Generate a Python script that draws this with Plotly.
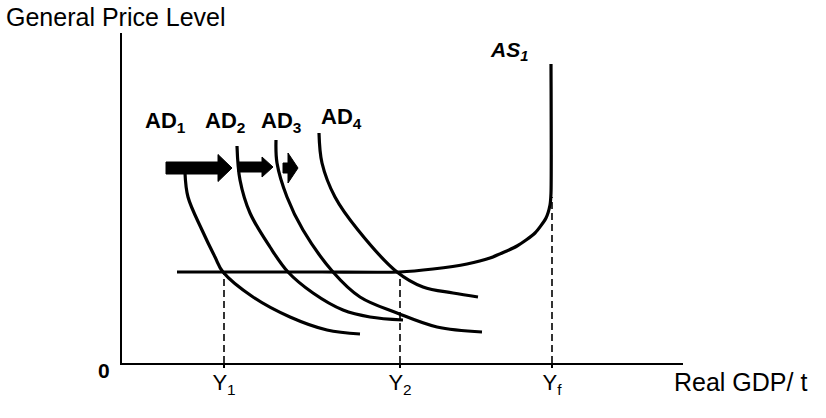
import plotly.graph_objects as go

# ---- data (units: Real GDP along x, price level along y) ----
ad1_x = [63, 66, 80, 93, 101, 131, 168, 205, 238]
ad1_y = [190, 166, 133, 106, 91, 66, 46, 33, 29]
ad2_x = [115, 118, 128, 148, 166, 191, 221, 248, 281]
ad2_y = [217, 183, 150, 116, 91, 70, 53, 46, 43]
ad3_x = [154, 155, 165, 181, 211, 238, 275, 315, 360]
ad3_y = [223, 200, 166, 133, 91, 66, 50, 36, 31]
ad4_x = [197, 200, 213, 236, 275, 301, 331, 356]
ad4_y = [230, 200, 166, 133, 91, 76, 70, 66]
as_x = [55, 200, 278, 311, 345, 368, 395, 413, 424, 428, 429, 429]
as_y = [91, 91, 91, 94, 99, 105, 117, 130, 145, 158, 170, 299]

y_levels = [102, 278, 430]          # Y1, Y2, Yf
y_level_prices = [91, 91, 166]      # where the dashed guides stop
tick_labels = ["Y<sub>1</sub>", "Y<sub>2</sub>", "Y<sub>f</sub>"]
ad_labels = ["AD<sub>1</sub>", "AD<sub>2</sub>", "AD<sub>3</sub>", "AD<sub>4</sub>"]

# shift arrows
arrow_tail = [44, 116, 161]
arrow_tip = [110, 151, 176]
arrow_head_len = [14, 11, 10]
arrow_y = [195, 196, 195]
arrow_shaft_half = [6, 5, 5]
arrow_head_half = [13.5, 10, 15]

X_MAX, Y_MAX = 561, 330
FONT = "Liberation Sans, Arial, sans-serif"
fig = go.Figure()

curve = dict(color="black", width=3.2, shape="spline", smoothing=1.0)
for xs, ys in [(ad1_x, ad1_y), (ad2_x, ad2_y), (ad3_x, ad3_y), (ad4_x, ad4_y)]:
    fig.add_trace(go.Scatter(x=xs, y=ys, mode="lines", line=curve, hoverinfo="skip"))
fig.add_trace(go.Scatter(x=as_x, y=as_y, mode="lines",
                         line=dict(color="black", width=3.2, shape="spline", smoothing=0.6),
                         hoverinfo="skip"))

for xv, yv in zip(y_levels, y_level_prices):
    fig.add_trace(go.Scatter(x=[xv, xv], y=[0, yv], mode="lines",
                             line=dict(color="black", width=1.6, dash="7px,4px"),
                             hoverinfo="skip"))

for t0, t1, hl, yc, sh, hh in zip(arrow_tail, arrow_tip, arrow_head_len, arrow_y,
                                  arrow_shaft_half, arrow_head_half):
    hb = t1 - hl
    px = [t0, hb, hb, t1, hb, hb, t0, t0]
    py = [yc + sh, yc + sh, yc + hh, yc, yc - hh, yc - sh, yc - sh, yc + sh]
    fig.add_trace(go.Scatter(x=px, y=py, mode="lines", fill="toself",
                             fillcolor="black", line=dict(color="black", width=1),
                             hoverinfo="skip"))

ann = []
ad_label_x = [21, 81, 137, 197]
ad_label_y = [241, 241, 241, 245]
for lab, lx, ly in zip(ad_labels, ad_label_x, ad_label_y):
    ann.append(dict(x=lx, y=ly, text="<b>" + lab + "</b>", xanchor="left", yanchor="middle",
                    showarrow=False, font=dict(family=FONT, size=22, color="black")))
ann.append(dict(x=366, y=312, text="<b><i>AS<sub>1</sub></i></b>", xanchor="left",
                yanchor="middle", showarrow=False,
                font=dict(family=FONT, size=21, color="black")))


def paper(x, y):
    return dict(xref="paper", yref="paper", x=x / X_MAX, y=y / Y_MAX)


ann.append(dict(**paper(-118, 346), text="General Price Level", xanchor="left",
                yanchor="middle", showarrow=False,
                font=dict(family=FONT, size=25, color="black")))
ann.append(dict(**paper(550, -19), text="Real GDP/ t", xanchor="left", yanchor="middle",
                showarrow=False, font=dict(family=FONT, size=25, color="black")))
ann.append(dict(**paper(-18, -7), text="<b>0</b>", xanchor="center", yanchor="middle",
                showarrow=False, font=dict(family=FONT, size=21, color="black")))

fig.update_layout(
    width=826, height=418,
    margin=dict(l=122, r=143, t=33, b=55),
    paper_bgcolor="white", plot_bgcolor="white",
    showlegend=False,
    annotations=ann,
    xaxis=dict(range=[0, X_MAX], showgrid=False, zeroline=False, showline=True,
               linecolor="black", linewidth=1.6, ticks="outside", ticklen=3,
               tickwidth=1.6, tickcolor="black",
               tickvals=y_levels, ticktext=tick_labels,
               tickfont=dict(family=FONT, size=22, color="black"), ticklabelstandoff=-4),
    yaxis=dict(range=[0, Y_MAX], showgrid=False, zeroline=False, showline=True,
               linecolor="black", linewidth=1.6, showticklabels=False, ticks=""),
)

fig.write_html("out.html", config={"displayModeBar": False},
               post_script="document.body.style.margin='0';document.body.style.padding='0';")
